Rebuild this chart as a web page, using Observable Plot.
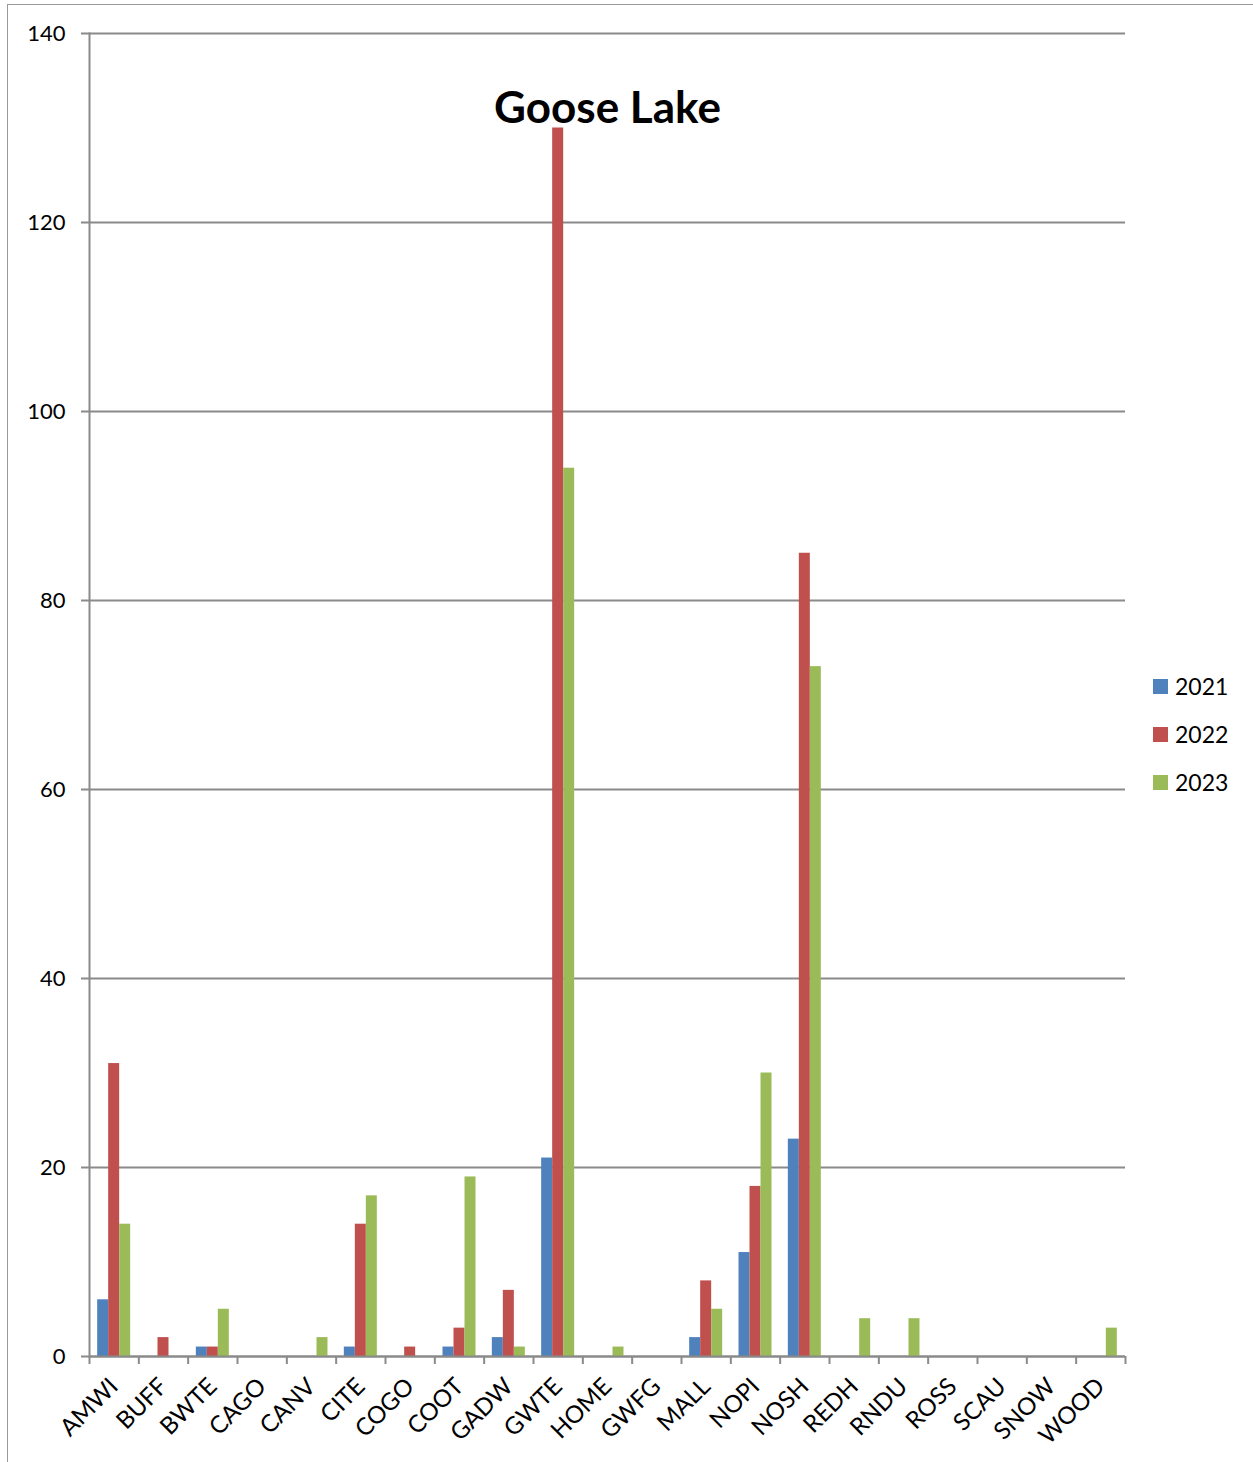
<!DOCTYPE html>
<html>
<head>
<meta charset="utf-8">
<script src="https://cdn.jsdelivr.net/npm/d3@7"></script>
<script src="https://cdn.jsdelivr.net/npm/@observablehq/plot@0.6"></script>
<style>
  html, body { margin: 0; padding: 0; background: #fff; }
  body { width: 1253px; height: 1462px; position: relative; overflow: hidden; font-family: Lato, "Open Sans", sans-serif; }
  #border { position: absolute; left: 7px; top: 4px; width: 1300px; height: 1500px; border-top: 1.5px solid #999; border-left: 1.5px solid #999; pointer-events: none; }
  #chart { position: absolute; left: 0; top: 0; }
  #legend { position: absolute; left: 1153px; top: 662px; }
  #legend .row { display: flex; align-items: center; height: 48px; font-size: 23px; color: #000; }
  #legend .sw { width: 15px; height: 15px; margin-right: 7px; }
</style>
</head>
<body>
<div id="border"></div>
<div id="chart"></div>
<div id="legend"></div>
<script>
const title = "Goose Lake";
const categories = ["AMWI","BUFF","BWTE","CAGO","CANV","CITE","COGO","COOT","GADW","GWTE","HOME","GWFG","MALL","NOPI","NOSH","REDH","RNDU","ROSS","SCAU","SNOW","WOOD"];
const years = ["2021","2022","2023"];
const colors = ["#4F81BD","#C0504D","#9BBB59"];
const v2021 = [6,0,1,0,0,1,0,1,2,21,0,0,2,11,23,0,0,0,0,0,0];
const v2022 = [31,2,1,0,0,14,1,3,7,130,0,0,8,18,85,0,0,0,0,0,0];
const v2023 = [14,0,5,0,2,17,0,19,1,94,1,0,5,30,73,4,4,0,0,0,3];
const yTicks = [0,20,40,60,80,100,120,140];

const series = [v2021, v2022, v2023];
const rows = years.flatMap((yr, j) => categories.map((c, i) => ({cat: c, year: yr, value: series[j][i]})));

const W = 1253, H = 1462;
const mL = 89, mR = 128, mT = 33, mB = 106;
const step = (W - mL - mR) / categories.length;
const barW = 11;
const groupPad = (step - barW * years.length) / 2;

const barMarks = years.map((yr, j) => Plot.barY(rows.filter(d => d.year === yr), {
  x: "cat", y: "value", fill: "year",
  insetLeft: groupPad + j * barW,
  insetRight: step - groupPad - (j + 1) * barW
}));

const chart = Plot.plot({
  width: W, height: H,
  marginLeft: mL, marginRight: mR, marginTop: mT, marginBottom: mB,
  style: {fontFamily: "Lato, 'Open Sans', sans-serif", background: "transparent"},
  x: {domain: categories, padding: 0, round: false, axis: null},
  y: {domain: [0, 140], axis: null},
  color: {type: "ordinal", domain: years, range: colors},
  marks: [
    Plot.gridY(yTicks, {stroke: "#8a8a8a", strokeOpacity: 1, strokeWidth: 2}),
    Plot.axisY(yTicks, {tickSize: 8, tickPadding: 16, fontSize: 22, stroke: "#8a8a8a", strokeWidth: 2, color: "#000", label: null}),
    Plot.frame({anchor: "left", stroke: "#8a8a8a", strokeWidth: 2}),
    ...barMarks,
    Plot.ruleY([0], {stroke: "#8a8a8a", strokeWidth: 2}),
    Plot.axisX(categories, {tickSize: 8, tickFormat: () => "", dx: -step / 2, stroke: "#8a8a8a", strokeWidth: 2, label: null}),
    Plot.axisX([categories[categories.length - 1]], {tickSize: 8, tickFormat: () => "", dx: step / 2, stroke: "#8a8a8a", strokeWidth: 2, label: null}),
    Plot.axisX(categories, {tickSize: 0, tickPadding: 26, tickRotate: -45, fontSize: 24, color: "#000", label: null}),
    Plot.text([title], {frameAnchor: "top", lineAnchor: "middle", dy: 75, fontSize: 44, fontWeight: "bold", fill: "#000"})
  ]
});
document.getElementById("chart").appendChild(chart);

const cs = chart.scale("color");
const leg = d3.select("#legend");
cs.domain.forEach((yr, i) => {
  const r = leg.append("div").attr("class", "row");
  r.append("div").attr("class", "sw").style("background", cs.range[i]);
  r.append("span").text(yr);
});
</script>
</body>
</html>
